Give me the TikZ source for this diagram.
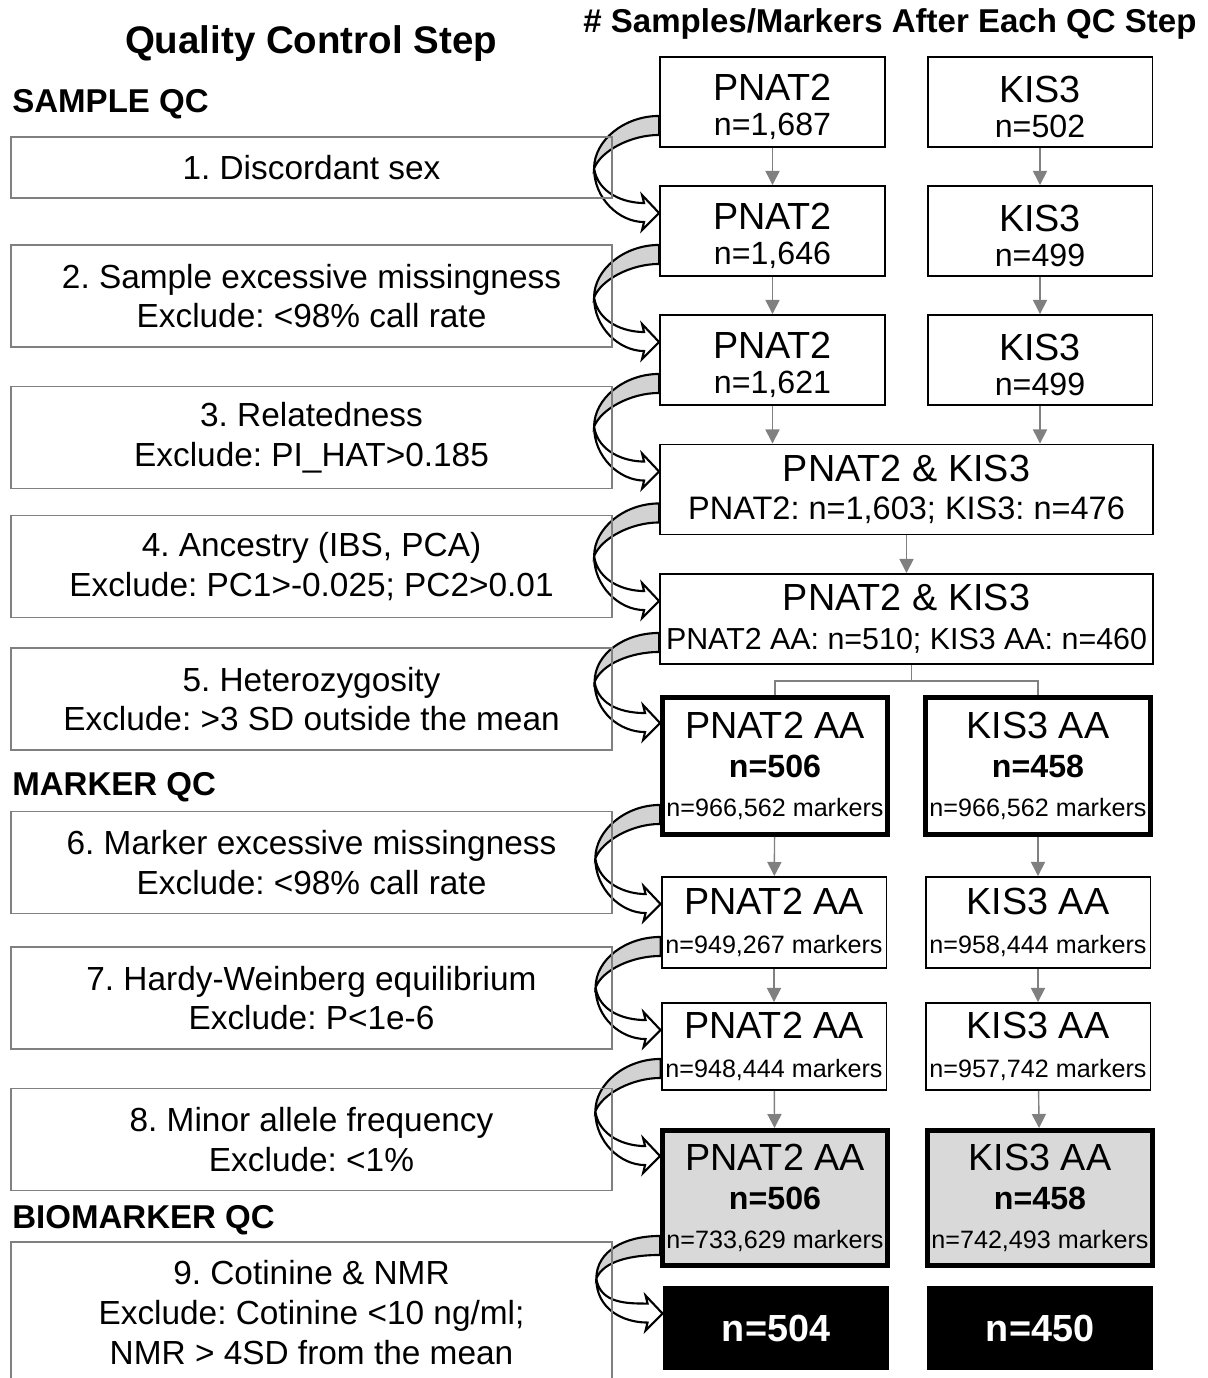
\documentclass[tikz,border=0pt]{standalone}
\usepackage{fontspec}
\setmainfont{Liberation Sans}
\usetikzlibrary{arrows.meta, positioning, calc}
\frenchspacing

\newcommand{\qchead}{\fontsize{21.9pt}{26pt}\selectfont\bfseries}
\newcommand{\qccol}{\fontsize{18.8pt}{22pt}\selectfont\bfseries}
\newcommand{\qcsec}{\fontsize{18.8pt}{22pt}\selectfont\bfseries}
\newcommand{\qcstep}{\fontsize{19pt}{22.6pt}\selectfont}
\newcommand{\qcbig}{\fontsize{21.5pt}{22pt}\selectfont}
\newcommand{\qcn}{\fontsize{18.3pt}{22pt}\selectfont}
\newcommand{\qcmark}{\fontsize{14.3pt}{22pt}\selectfont}
\newcommand{\qcup}{\rule{0pt}{21pt}}

% curved block arrow from the step above to the step below
\newcommand{\qcarrow}[2]{%
  \coordinate (qs) at (#1.south west);
  \coordinate (qe) at (#2.north west);
  \coordinate (ql) at ($(qs)!0.5!(qe)+(-65,2)$);
  \filldraw[fill=gray!35, line width=1.2pt] ($(qs)+(0,-32)$) .. controls +(-35,0) and +(0,-28) .. (ql)
    .. controls +(7,-18) and +(-28,0) .. ($(qs)+(0,-13)$) -- cycle;
  \filldraw[fill=white, line width=1.2pt] (ql) .. controls +(0,30) and +(-25,0) .. ($(qe)+(-15,37)$)
    -- ($(qe)+(-17,45)$) -- ($(qe)+(0,28)$) -- ($(qe)+(-17,10)$) -- ($(qe)+(-15,18)$)
    .. controls +(-20,0) and +(4,25) .. (ql) -- cycle;
}

\begin{document}
\begin{tikzpicture}[x=0.02cm, y=-0.02cm,
  stepbox/.style={draw=gray, line width=1.1pt, minimum width=12.02cm, minimum height=2.04cm,
    align=center, font=\qcstep, inner sep=0pt},
  secname/.style={anchor=west, font=\qcsec, inner sep=0pt},
  cnt/.style={draw, line width=1.1pt, minimum width=4.5cm, minimum height=1.8cm,
    align=center, font=\qcbig, inner sep=0pt},
  wide/.style={cnt, minimum width=9.86cm},
  aa/.style={cnt, line width=2.8pt},
  final/.style={cnt, fill=black, text=white, font=\qcbig\bfseries, minimum height=1.66cm},
  garrow/.style={draw=gray, line width=0.8pt, -{Triangle[length=8pt, width=8pt]}},
  gline/.style={draw=gray, line width=0.8pt}]
\useasboundingbox (0,0) rectangle (1207,1378);

% headings
\node[font=\qchead, inner sep=0pt] (hstep) at (311,44) {Quality Control Step};
\node[font=\qccol, inner sep=0pt] (hcount) at (890,24) {\# Samples/Markers After Each QC Step};
\node[secname] (sample) at (12,104) {SAMPLE QC};
\node[secname] (marker) at (12,787) {MARKER QC};
\node[secname] (biomarker) at (12,1220) {BIOMARKER QC};

% counts after each step
\node[cnt] (r1p) at (772.5,102) {\qcup PNAT2\\[-2pt]{\qcn n=1,687}};
\node[cnt] (r1k) at (1040,102) {\qcup KIS3\\[-2pt]{\qcn n=502}};
\node[cnt] (r2p) at (772.5,231) {\qcup PNAT2\\[-2pt]{\qcn n=1,646}};
\node[cnt] (r2k) at (1040,231) {\qcup KIS3\\[-2pt]{\qcn n=499}};
\node[cnt] (r3p) at (772.5,360) {\qcup PNAT2\\[-2pt]{\qcn n=1,621}};
\node[cnt] (r3k) at (1040,360) {\qcup KIS3\\[-2pt]{\qcn n=499}};
\node[wide] (r4) at (906.5,489.5) {PNAT2 \& KIS3\\{\fontsize{18.5pt}{22pt}\selectfont PNAT2: n=1,603; KIS3: n=476}};
\node[wide] (r5) at (906.5,619) {PNAT2 \& KIS3\\{\fontsize{17.3pt}{22pt}\selectfont PNAT2 AA: n=510; KIS3 AA: n=460}};
\node[aa, minimum height=2.74cm] (r6p) at (775,766) {PNAT2 AA\\{\qcn\bfseries n=506}\\{\qcmark n=966,562 markers}};
\node[aa, minimum height=2.74cm] (r6k) at (1038,766) {KIS3 AA\\{\qcn\bfseries n=458}\\{\qcmark n=966,562 markers}};
\node[cnt, minimum height=1.82cm] (r7p) at (774,922.5) {PNAT2 AA\\{\qcmark n=949,267 markers}};
\node[cnt, minimum height=1.82cm] (r7k) at (1038,922.5) {KIS3 AA\\{\qcmark n=958,444 markers}};
\node[cnt, minimum height=1.74cm] (r8p) at (774,1046.5) {PNAT2 AA\\{\qcmark n=948,444 markers}};
\node[cnt, minimum height=1.74cm] (r8k) at (1038,1046.5) {KIS3 AA\\{\qcmark n=957,742 markers}};
\node[aa, fill=gray!30, minimum height=2.7cm] (r9p) at (775,1198) {PNAT2 AA\\{\qcn\bfseries n=506}\\{\qcmark n=733,629 markers}};
\node[aa, fill=gray!30, minimum height=2.7cm] (r9k) at (1040,1198) {KIS3 AA\\{\qcn\bfseries n=458}\\{\qcmark n=742,493 markers}};
\node[final] (r10p) at (776,1328) {n=504};
\node[final] (r10k) at (1040,1328) {n=450};

% straight arrows between counts
\draw[garrow] (r1p) -- (r2p);
\draw[garrow] (r1k) -- (r2k);
\draw[garrow] (r2p) -- (r3p);
\draw[garrow] (r2k) -- (r3k);
\draw[garrow] (r3p.south) -- (r3p.south |- r4.north);
\draw[garrow] (r3k.south) -- (r3k.south |- r4.north);
\draw[garrow] (r4) -- (r5);
\draw[gline] ($(r5.south)+(5,0)$) -- ++(0,16) coordinate (split);
\draw[gline] (r6p.north) |- (split) -| (r6k.north);
\draw[garrow] (r6p) -- (r7p);
\draw[garrow] (r6k) -- (r7k);
\draw[garrow] (r7p) -- (r8p);
\draw[garrow] (r7k) -- (r8k);
\draw[garrow] (r8p) -- (r9p);
\draw[garrow] (r8k) -- (r9k);

% curved arrows
\qcarrow{r1p}{r2p}
\qcarrow{r2p}{r3p}
\qcarrow{r3p}{r4}
\qcarrow{r4}{r5}
\qcarrow{r5}{r6p}
\qcarrow{r6p}{r7p}
\qcarrow{r7p}{r8p}
\qcarrow{r8p}{r9p}
\qcarrow{r9p}{r10p}

% QC steps
\node[stepbox, minimum height=1.22cm] (s1) at (311.5,167.5) {1. Discordant sex};
\node[stepbox] (s2) at (311.5,296) {2. Sample excessive missingness\\Exclude: <98\% call rate};
\node[stepbox] (s3) at (311.5,437.5) {3. Relatedness\\Exclude: PI\_HAT>0.185};
\node[stepbox] (s4) at (311.5,566.5) {4. Ancestry (IBS, PCA)\\Exclude: PC1>-0.025; PC2>0.01};
\node[stepbox] (s5) at (311.5,699) {5. Heterozygosity\\Exclude: >3 SD outside the mean};
\node[stepbox] (s6) at (311.5,862.5) {6. Marker excessive missingness\\Exclude: <98\% call rate};
\node[stepbox] (s7) at (311.5,998) {7. Hardy-Weinberg equilibrium\\Exclude: P<1e-6};
\node[stepbox] (s8) at (311.5,1139.5) {8. Minor allele frequency\\Exclude: <1\%};
\node[stepbox, minimum height=2.82cm] (s9) at (311.5,1312.5) {9. Cotinine \& NMR\\Exclude: Cotinine <10 ng/ml;\\NMR > 4SD from the mean};
\end{tikzpicture}
\end{document}
